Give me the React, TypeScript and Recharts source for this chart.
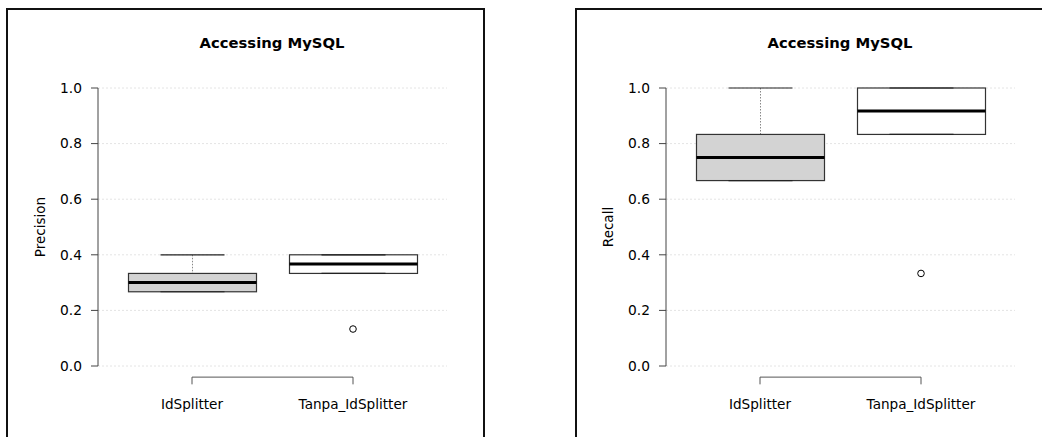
import React from 'react';
import {
  ComposedChart,
  Bar,
  Line,
  XAxis,
  YAxis,
  CartesianGrid,
  ReferenceLine,
} from 'recharts';

const groups = ['IdSplitter', 'Tanpa_IdSplitter'];
const yTicks = [0, 0.2, 0.4, 0.6, 0.8, 1.0];

// Precision
const precisionMin = [0.267, 0.333];
const precisionQ1 = [0.267, 0.333];
const precisionMedian = [0.3, 0.367];
const precisionQ3 = [0.333, 0.4];
const precisionMax = [0.4, 0.4];
const precisionOutlier = [null, 0.133];

// Recall
const recallMin = [0.667, 0.833];
const recallQ1 = [0.667, 0.833];
const recallMedian = [0.75, 0.917];
const recallQ3 = [0.833, 1.0];
const recallMax = [1.0, 1.0];
const recallOutlier = [null, 0.333];

const boxFills = ['#d3d3d3', '#ffffff'];
const FONT = '"DejaVu Sans", sans-serif';

function buildRows(
  min: number[],
  q1: number[],
  median: number[],
  q3: number[],
  max: number[],
  outlier: (number | null)[]
) {
  return groups.map((name, i) => ({
    name,
    range: [min[i], max[i]],
    min: min[i],
    q1: q1[i],
    median: median[i],
    q3: q3[i],
    max: max[i],
    outlier: outlier[i],
  }));
}

const BoxShape = (props: any) => {
  const { x, y, width, height, payload, index } = props;
  const { min, q1, median, q3, max } = payload;
  const span = max - min || 1;
  const toY = (v: number) => y + (height * (max - v)) / span;
  const cx = x + width / 2;
  const capL = cx - width / 4;
  const capR = cx + width / 4;
  return (
    <g>
      <line x1={cx} x2={cx} y1={toY(max)} y2={toY(q3)} stroke="#888" strokeDasharray="1.5 1.5" />
      <line x1={cx} x2={cx} y1={toY(q1)} y2={toY(min)} stroke="#888" strokeDasharray="1.5 1.5" />
      <rect
        x={x}
        y={toY(q3)}
        width={width}
        height={toY(q1) - toY(q3)}
        fill={boxFills[index]}
        stroke="#333"
        strokeWidth={1.2}
      />
      <line x1={capL} x2={capR} y1={toY(max)} y2={toY(max)} stroke="#222" strokeWidth={1.2} />
      <line x1={capL} x2={capR} y1={toY(min)} y2={toY(min)} stroke="#222" strokeWidth={1.2} />
      <line x1={x} x2={x + width} y1={toY(median)} y2={toY(median)} stroke="#000" strokeWidth={3} />
    </g>
  );
};

const OutlierDot = (props: any) => {
  const { cx, cy, value } = props;
  if (value == null || cy == null) return <g />;
  return <circle cx={cx} cy={cy} r={3.3} fill="#fff" stroke="#000" strokeWidth={1} />;
};

const XTick = (props: any) => {
  const { x, y, payload } = props;
  return (
    <text x={x} y={y + 43} textAnchor="middle" fontSize={13.6} fontFamily={FONT} fill="#000">
      {payload.value}
    </text>
  );
};

interface PanelProps {
  rows: ReturnType<typeof buildRows>;
  yLabel: string;
  left: number;
}

function Panel({ rows, yLabel, left }: PanelProps) {
  return (
    <div style={{ position: 'absolute', left, top: 0 }}>
      <div
        style={{
          position: 'absolute',
          left: 0,
          width: 544,
          top: 33,
          textAlign: 'center',
          fontFamily: FONT,
          fontWeight: 'bold',
          fontSize: 14.8,
          lineHeight: '20px',
        }}
      >
        Accessing MySQL
      </div>
      <ComposedChart
        width={484}
        height={437}
        data={rows}
        margin={{ top: 88, right: 37, bottom: 41, left: 38 }}
      >
        <CartesianGrid horizontal vertical={false} stroke="#e4e4e4" strokeDasharray="2 2" />
        <XAxis
          dataKey="name"
          type="category"
          padding={{ left: 13.5, right: 13.5 }}
          axisLine={false}
          tickLine={false}
          tickSize={0}
          tickMargin={0}
          height={30}
          tick={<XTick />}
          interval={0}
        />
        <YAxis
          type="number"
          domain={[0, 1]}
          ticks={yTicks}
          width={60}
          tickSize={7}
          tickMargin={9}
          tickFormatter={(v: number) => v.toFixed(1)}
          stroke="#444"
          tick={{ fill: '#000', fontSize: 13.8, fontFamily: FONT }}
          label={{
            content: ({ viewBox }: any) => {
              const lx = viewBox.x + 7;
              const ly = viewBox.y + viewBox.height / 2;
              return (
                <text
                  x={lx}
                  y={ly}
                  transform={`rotate(-90, ${lx}, ${ly})`}
                  textAnchor="middle"
                  fontSize={13.5}
                  fontFamily={FONT}
                  fill="#000"
                >
                  {yLabel}
                </text>
              );
            },
          }}
        />
        <Bar dataKey="range" barSize={128} shape={<BoxShape />} isAnimationActive={false} />
        <Line
          dataKey="outlier"
          stroke="none"
          dot={<OutlierDot />}
          activeDot={false}
          isAnimationActive={false}
        />
        <ReferenceLine
          segment={[
            { x: groups[0], y: -0.04 },
            { x: groups[1], y: -0.04 },
          ]}
          stroke="#555"
          ifOverflow="visible"
        />
        {groups.map((g) => (
          <ReferenceLine
            key={g}
            segment={[
              { x: g, y: -0.04 },
              { x: g, y: -0.066 },
            ]}
            stroke="#555"
            ifOverflow="visible"
          />
        ))}
      </ComposedChart>
    </div>
  );
}

const precisionRows = buildRows(
  precisionMin,
  precisionQ1,
  precisionMedian,
  precisionQ3,
  precisionMax,
  precisionOutlier
);
const recallRows = buildRows(recallMin, recallQ1, recallMedian, recallQ3, recallMax, recallOutlier);

export default function App() {
  return (
    <div
      style={{
        position: 'absolute',
        left: 0,
        top: 0,
        width: 1042,
        height: 437,
        overflow: 'hidden',
        background: '#fff',
      }}
    >
      <div
        style={{
          position: 'absolute',
          left: 6,
          top: 8,
          width: 479,
          height: 460,
          boxSizing: 'border-box',
          borderTop: '2px solid #111',
          borderLeft: '2px solid #111',
          borderRight: '2px solid #111',
        }}
      />
      <div
        style={{
          position: 'absolute',
          left: 575,
          top: 8,
          width: 500,
          height: 460,
          boxSizing: 'border-box',
          borderTop: '2px solid #111',
          borderLeft: '2px solid #111',
        }}
      />
      <Panel rows={precisionRows} yLabel="Precision" left={0} />
      <Panel rows={recallRows} yLabel="Recall" left={568} />
    </div>
  );
}
